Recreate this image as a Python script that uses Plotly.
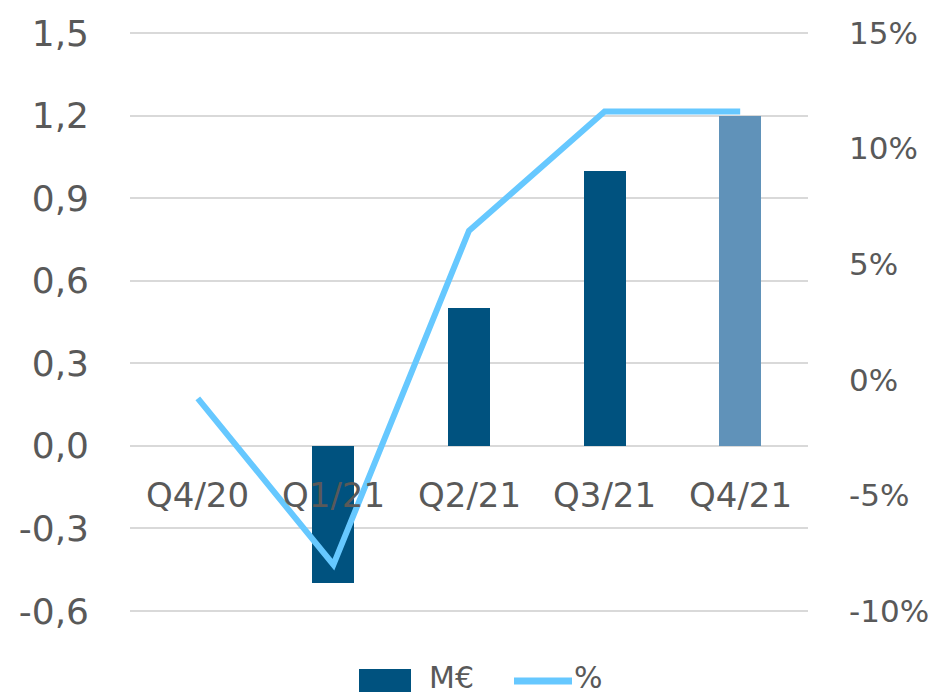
import plotly.graph_objects as go

categories = ["Q4/20", "Q1/21", "Q2/21", "Q3/21", "Q4/21"]
meur_values = [None, -0.5, 0.5, 1.0, 1.2]
pct_values = [-0.8, -8.0, 6.45, 11.6, 11.6]
bar_colors = ["#00527F", "#00527F", "#00527F", "#00527F", "#6092B9"]
left_ticks = [-0.6, -0.3, 0.0, 0.3, 0.6, 0.9, 1.2, 1.5]
left_labels = ["-0,6", "-0,3", "0,0", "0,3", "0,6", "0,9", "1,2", "1,5"]
right_ticks = [-10, -5, 0, 5, 10, 15]
right_labels = ["-10%", "-5%", "0%", "5%", "10%", "15%"]
legend_names = ["M€", "%"]

FONT = "DejaVu Sans"
GREY = "#595959"
BAR_DARK = "#00527F"
LINE_COL = "#66C8FF"

# page body has an 8px margin; figure is sized to fill the rest
W, H = 931, 690
PAD = 3  # extra px so edge gridlines are drawn
dl = PAD * 2.1 / 578
dr = PAD * 25 / 578
ml, mr, mt, mb = 122, 131, 25 - PAD, 87 - PAD
plot_w = W - ml - mr
plot_h = H - mt - mb


def px(xp):
    return (xp - 8 - ml) / plot_w


def py(yp):
    return (H - mb - (yp - 8)) / plot_h


fig = go.Figure()
fig.add_trace(go.Bar(
    x=categories, y=meur_values, name=legend_names[0],
    marker=dict(color=bar_colors, line=dict(width=0)),
    width=0.31, yaxis="y", showlegend=False,
))
fig.add_trace(go.Scatter(
    x=categories, y=pct_values, name=legend_names[1], mode="lines",
    line=dict(color=LINE_COL, width=6), yaxis="y2", showlegend=False,
))

for c in categories:
    fig.add_annotation(x=c, y=0, xref="x", yref="y", text=c, showarrow=False,
                       yanchor="top", yshift=-27,
                       font=dict(family=FONT, size=34, color=GREY))

# manual legend
LEG_Y = 677
fig.add_shape(type="rect", xref="paper", yref="paper",
              x0=px(359), x1=px(411), y0=py(692), y1=py(669),
              fillcolor=BAR_DARK, line=dict(width=0))
fig.add_annotation(xref="paper", yref="paper", x=px(428), y=py(LEG_Y),
                   xanchor="left", yanchor="middle", text=legend_names[0],
                   showarrow=False, borderpad=0,
                   font=dict(family=FONT, size=30, color=GREY))
fig.add_shape(type="line", xref="paper", yref="paper",
              x0=px(514), x1=px(572), y0=py(681), y1=py(681),
              line=dict(color=LINE_COL, width=7))
fig.add_annotation(xref="paper", yref="paper", x=px(573), y=py(LEG_Y),
                   xanchor="left", yanchor="middle", text=legend_names[1],
                   showarrow=False, borderpad=0,
                   font=dict(family=FONT, size=30, color=GREY))

fig.update_layout(
    width=W, height=H,
    margin=dict(l=ml, r=mr, t=mt, b=mb, pad=0),
    plot_bgcolor="white", paper_bgcolor="white",
    font=dict(family=FONT, size=32, color=GREY),
    bargap=0,
    showlegend=False,
    xaxis=dict(showticklabels=False, showgrid=False, zeroline=False,
               showline=False, ticks="", automargin=False),
    yaxis=dict(range=[-0.6 - dl, 1.5 + dl], tickvals=left_ticks, ticktext=left_labels,
               showgrid=True, gridcolor="#D9D9D9", gridwidth=2,
               zeroline=True, zerolinecolor="#D9D9D9", zerolinewidth=2,
               ticklabelstandoff=40, tickfont=dict(size=36), automargin=False),
    yaxis2=dict(range=[-10 - dr, 15 + dr], tickvals=right_ticks, ticktext=right_labels,
                overlaying="y", side="right", showgrid=False, zeroline=False,
                ticklabelstandoff=40, tickfont=dict(size=31), automargin=False),
)

fig.write_html("out.html")
